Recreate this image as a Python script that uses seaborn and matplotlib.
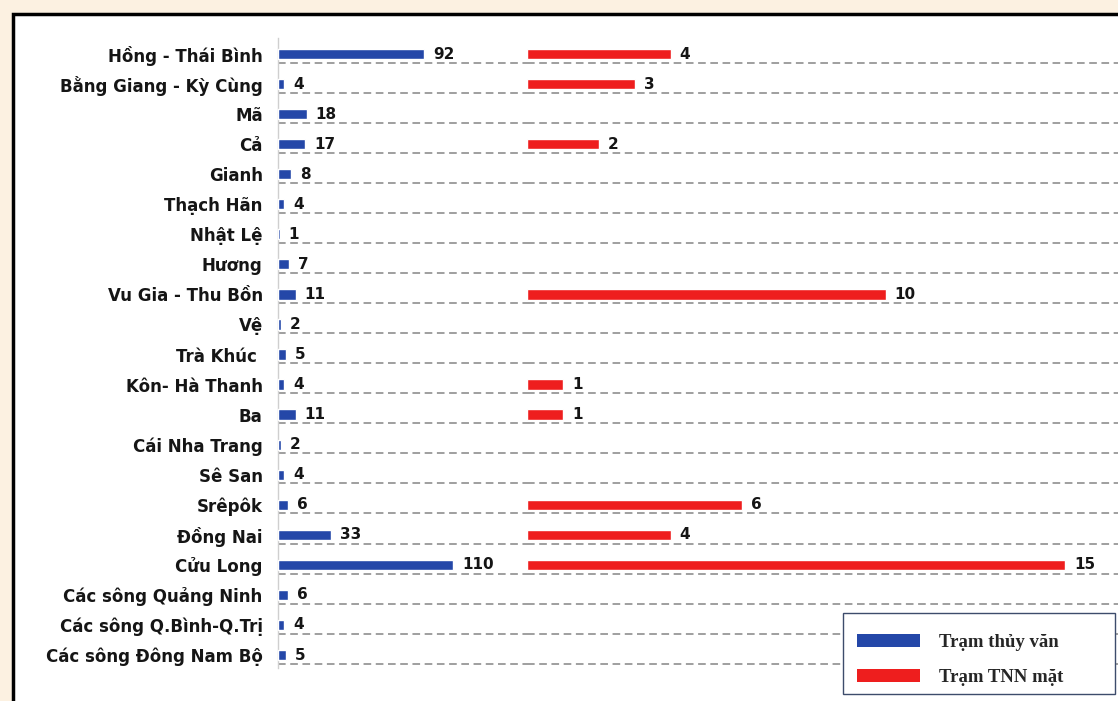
import matplotlib
matplotlib.use('Agg')
import matplotlib.pyplot as plt
import seaborn as sns
import pandas as pd
from matplotlib.patches import Rectangle, Patch

sns.set_theme(style='white')
plt.rcParams['font.family'] = ['DejaVu Sans']

# dữ liệu
rivers = ['Hồng - Thái Bình', 'Bằng Giang - Kỳ Cùng', 'Mã', 'Cả', 'Gianh', 'Thạch Hãn',
          'Nhật Lệ', 'Hương', 'Vu Gia - Thu Bồn', 'Vệ', 'Trà Khúc ', 'Kôn- Hà Thanh', 'Ba',
          'Cái Nha Trang', 'Sê San', 'Srêpôk', 'Đồng Nai', 'Cửu Long',
          'Các sông Quảng Ninh', 'Các sông Q.Bình-Q.Trị', 'Các sông Đông Nam Bộ']
thuy_van = [92, 4, 18, 17, 8, 4, 1, 7, 11, 2, 5, 4, 11, 2, 4, 6, 33, 110, 6, 4, 5]
tnn_mat = [4, 3, 0, 2, 0, 0, 0, 0, 10, 0, 0, 1, 1, 0, 0, 6, 4, 15, 0, 0, 0]

blue = '#2447A8'
red = '#EE1E1E'
bg = '#FCF1E1'

df = pd.DataFrame({'song': rivers, 'tv': thuy_van, 'tnn': tnn_mat})

W, H = 1118, 701
fig = plt.figure(figsize=(W / 100, H / 100), dpi=100, facecolor=bg)

# khung trắng viền đen
fig.add_artist(Rectangle((13 / W, -0.1), 2, 1 - 14 / H + 0.1, transform=fig.transFigure,
                         facecolor='white', edgecolor='black', lw=2.5, zorder=0))

top_px, bot_px = 38, 668
y_bottom = 1 - bot_px / H
y_height = (bot_px - top_px) / H
ax1 = fig.add_axes([278 / W, y_bottom, (527 - 278) / W, y_height])
ax2 = fig.add_axes([527 / W, y_bottom, (W - 527) / W + 0.01, y_height])

row_px = (655 - 54) / 20
ylim = ((bot_px - 54) / row_px, -(54 - top_px) / row_px)

sns.barplot(data=df, x='tv', y='song', order=rivers, color=blue, width=0.34,
            saturation=1, ax=ax1, zorder=3)
sns.barplot(data=df, x='tnn', y='song', order=rivers, color=red, width=0.34,
            saturation=1, ax=ax2, zorder=3)

ax1.set_xlim(0, 249 / (175 / 110))
ax2.set_xlim(0, (W - 527 + 11) / (538 / 15))

lab_font = dict(fontsize=11, fontweight='bold', color='#151515')
ax1.bar_label(ax1.containers[0], labels=[str(v) for v in thuy_van], padding=6.5, **lab_font)
ax2.bar_label(ax2.containers[0], labels=[str(v) if v else '' for v in tnn_mat],
              padding=6.5, **lab_font)

for ax in (ax1, ax2):
    ax.set_ylim(*ylim)
    ax.set_facecolor('none')
    ax.set_xlabel('')
    ax.set_ylabel('')
    ax.set_xticks([])
    for i in range(len(rivers)):
        ax.axhline(i + 0.29, color='#858585', lw=1.1, ls=(0, (5, 3)), zorder=1)
    for s in ax.spines.values():
        s.set_visible(False)

ax1.spines['left'].set_visible(True)
ax1.spines['left'].set_color('#cfcfcf')
ax1.spines['left'].set_linewidth(1)
ax1.tick_params(axis='y', length=0, pad=11)
for t in ax1.get_yticklabels():
    t.set_fontsize(12)
    t.set_fontweight('bold')
    t.set_color('#151515')
ax2.set_yticks([])

# khung chú thích
fig.add_artist(Rectangle((843 / W, 1 - 694 / H), 272 / W, 81 / H, transform=fig.transFigure,
                         facecolor='white', edgecolor='#3d4c6b', lw=1, zorder=5))
handles = [Patch(facecolor=blue, edgecolor='none', label='Trạm thủy văn'),
           Patch(facecolor=red, edgecolor='none', label='Trạm TNN mặt')]
leg = fig.legend(handles=handles, loc='upper left',
                 bbox_to_anchor=(853 / W, 1 - 630 / H),
                 prop={'family': 'Liberation Serif', 'weight': 'bold', 'size': 13.5},
                 handlelength=3.4, handleheight=0.7, handletextpad=1.0, borderpad=0.2,
                 labelspacing=0.95, frameon=False, borderaxespad=0)
leg.set_zorder(6)

fig.savefig('out.png', dpi=100, facecolor=bg)
